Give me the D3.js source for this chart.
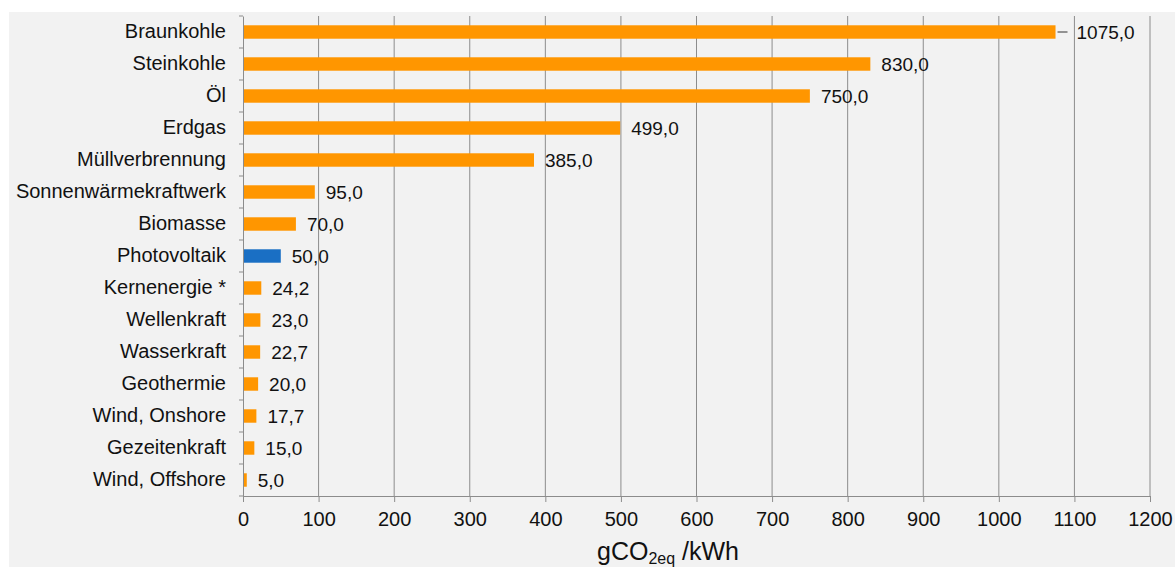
<!DOCTYPE html>
<html>
<head>
<meta charset="utf-8">
<script src="https://cdn.jsdelivr.net/npm/d3@7"></script>
<style>
  body { margin: 0; background: #fff; }
  text { font-family: "Liberation Sans", Arial, sans-serif; fill: #111; }
</style>
</head>
<body>
<svg id="chart" width="1175" height="567"></svg>
<script>
var categories = ['Braunkohle', 'Steinkohle', 'Öl', 'Erdgas', 'Müllverbrennung',
    'Sonnenwärmekraftwerk', 'Biomasse', 'Photovoltaik', 'Kernenergie *', 'Wellenkraft',
    'Wasserkraft', 'Geothermie', 'Wind, Onshore', 'Gezeitenkraft', 'Wind, Offshore'];
var values = [1075, 830, 750, 499, 385, 95, 70, 50, 24.2, 23, 22.7, 20, 17.7, 15, 5];
var highlight = 'Photovoltaik';
var xTicks = [0, 100, 200, 300, 400, 500, 600, 700, 800, 900, 1000, 1100, 1200];

var svg = d3.select('#chart');
var margin = {left: 243, right: 25, top: 16, bottom: 71};
var width = 1175 - margin.left - margin.right;
var height = 567 - margin.top - margin.bottom;

svg.append('rect')
    .attr('x', 9).attr('y', 12)
    .attr('width', 1175 - 9).attr('height', 567 - 12)
    .attr('fill', '#f2f2f2');

var g = svg.append('g').attr('transform', 'translate(' + margin.left + ',' + margin.top + ')');

var x = d3.scaleLinear().domain([0, 1200]).range([0, 907]);
var y = d3.scaleBand().domain(categories).range([0, height]).paddingInner(0.58).paddingOuter(0.29);

// gridlines
g.selectAll('.grid')
    .data(xTicks.slice(1))
    .enter().append('line')
    .attr('class', 'grid')
    .attr('x1', function(d) { return x(d); })
    .attr('x2', function(d) { return x(d); })
    .attr('y1', 0).attr('y2', height)
    .attr('stroke', '#8c8c8c').attr('stroke-width', 1);

// bars
g.selectAll('.bar')
    .data(values)
    .enter().append('rect')
    .attr('class', 'bar')
    .attr('x', x(0))
    .attr('y', function(d, i) { return y(categories[i]); })
    .attr('width', function(d) { return x(d) - x(0); })
    .attr('height', y.bandwidth())
    .attr('fill', function(d, i) { return categories[i] == highlight ? '#1a6fc4' : '#ff9600'; });

// value labels
var fmt = function(d) { return d3.format('.1f')(d).replace('.', ','); };
g.selectAll('.val')
    .data(values)
    .enter().append('text')
    .attr('class', 'val')
    .attr('x', function(d, i) { return x(d) + (i == 0 ? 21 : 11); })
    .attr('y', function(d, i) { return y(categories[i]) + y.bandwidth() / 2; })
    .attr('dy', '0.36em')
    .style('font-size', '19px')
    .text(fmt);

// leader line for the longest bar
g.append('line')
    .attr('x1', x(values[0]) + 2).attr('x2', x(values[0]) + 12)
    .attr('y1', y(categories[0]) + y.bandwidth() / 2)
    .attr('y2', y(categories[0]) + y.bandwidth() / 2)
    .attr('stroke', '#333');

// y axis
var yAxis = g.append('g')
    .call(d3.axisLeft(y).tickSize(0).tickPadding(17));
yAxis.select('.domain').attr('stroke', '#8c8c8c');
yAxis.selectAll('text').style('font-size', '20px').attr('fill', '#111');
yAxis.selectAll('.cat-tick')
    .data(d3.range(categories.length + 1))
    .enter().append('line')
    .attr('class', 'cat-tick')
    .attr('x1', -4).attr('x2', 0)
    .attr('y1', function(d) { return d * y.step(); })
    .attr('y2', function(d) { return d * y.step(); })
    .attr('stroke', '#8c8c8c');

// x axis
var xAxis = g.append('g')
    .attr('transform', 'translate(0,' + height + ')')
    .call(d3.axisBottom(x).tickValues(xTicks).tickFormat(d3.format('d'))
        .tickSize(6).tickSizeOuter(0).tickPadding(10));
xAxis.select('.domain').attr('stroke', '#8c8c8c');
xAxis.selectAll('.tick line').attr('stroke', '#8c8c8c');
xAxis.selectAll('text').style('font-size', '20px').attr('fill', '#111');

// axis title
var title = svg.append('text')
    .attr('x', 668).attr('y', 560)
    .attr('text-anchor', 'middle')
    .style('font-size', '25px');
title.append('tspan').text('gCO');
title.append('tspan').attr('dy', 4).style('font-size', '16px').text('2eq');
title.append('tspan').attr('dy', -4).text(' /kWh');
</script>
</body>
</html>
